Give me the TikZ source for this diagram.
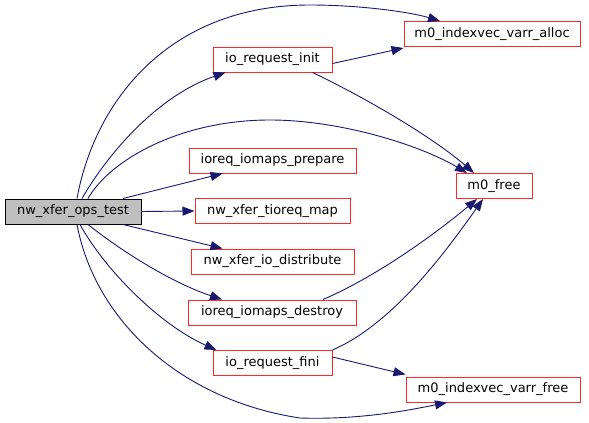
\documentclass[tikz,border=0pt]{standalone}
\usepackage{fontspec}
\setmainfont{DejaVu Sans}
\usetikzlibrary{arrows.meta}
\definecolor{edgeblue}{HTML}{191970}
\definecolor{nodegray}{HTML}{BFBFBF}
\definecolor{nodered}{HTML}{FF2828}
\begin{document}
\begin{tikzpicture}[x=1pt,y=-1pt,
  fn/.style={draw=nodered, line width=1pt, fill=white, inner sep=0pt, minimum height=25pt,
    font=\fontsize{13}{15}\selectfont, anchor=center},
  root/.style={fn, draw=black, fill=nodegray},
  call/.style={draw=edgeblue, line width=0.9pt, -{Triangle[length=12pt,width=9pt]}}
]
\useasboundingbox (0,0) rectangle (589,423);
\node[root, minimum width=136pt] (ops) at (73,211.5) {nw\_xfer\_ops\_test};
\node[fn, minimum width=176pt] (alloc) at (492,34) {m0\_indexvec\_varr\_alloc};
\node[fn, minimum width=119pt] (init) at (272.5,59.5) {io\_request\_init};
\node[fn, minimum width=167pt] (prep) at (272.5,160.5) {ioreq\_iomaps\_prepare};
\node[fn, minimum width=76pt] (free) at (494,186) {m0\_free};
\node[fn, minimum width=155pt] (map) at (272.5,211) {nw\_xfer\_tioreq\_map};
\node[fn, minimum width=163pt] (dist) at (272.5,261.5) {nw\_xfer\_io\_distribute};
\node[fn, minimum width=168pt] (destr) at (272,312.5) {ioreq\_iomaps\_destroy};
\node[fn, minimum width=119pt] (fini) at (272.5,363) {io\_request\_fini};
\node[fn, minimum width=174pt] (vfree) at (493,389.5) {m0\_indexvec\_varr\_free};

% from nw_xfer_ops_test
\draw[call] ([xshift=4pt]ops.north) .. controls (95,100) and (170,5) .. (310,5)
  .. controls (360,5) and (410,12) .. ([xshift=-52pt]alloc.north);
\draw[call] ([xshift=9pt]ops.north) .. controls (110,150) and (160,95) .. ([xshift=-47pt]init.south);
\draw[call] ([xshift=15pt]ops.north) .. controls (110,160) and (180,120) .. (270,120)
  .. controls (340,120) and (420,145) .. ([xshift=-27pt]free.north);
\draw[call] ([xshift=50pt]ops.north) -- ([xshift=-50pt]prep.south);
\draw[call] (ops.east) -- (map.west);
\draw[call] ([xshift=50pt]ops.south) -- ([xshift=-50pt]dist.north);
\draw[call] ([xshift=15pt]ops.south) .. controls (120,250) and (170,282) .. ([xshift=-50pt]destr.north);
\draw[call] ([xshift=7pt]ops.south) .. controls (105,270) and (160,325) .. ([xshift=-56pt]fini.north);
\draw[call] ([xshift=4pt]ops.south) .. controls (95,320) and (180,400) .. (300,418)
  .. controls (360,420) and (410,410) .. ([xshift=-46pt]vfree.south);

% from io_request_init
\draw[call] ([yshift=-4pt]init.east) -- ([yshift=-1pt]alloc.south west);
\draw[call] ([xshift=40pt]init.south) .. controls (360,95) and (430,135) .. ([xshift=-20pt]free.north);

% from ioreq_iomaps_destroy
\draw[call] ([xshift=51pt]destr.north) .. controls (380,275) and (440,230) .. ([xshift=-17pt]free.south);

% from io_request_fini
\draw[call] (fini.north east) .. controls (390,325) and (440,260) .. ([xshift=-11pt]free.south);
\draw[call] ([yshift=6pt]fini.east) -- ([yshift=2pt]vfree.north west);
\end{tikzpicture}
\end{document}
